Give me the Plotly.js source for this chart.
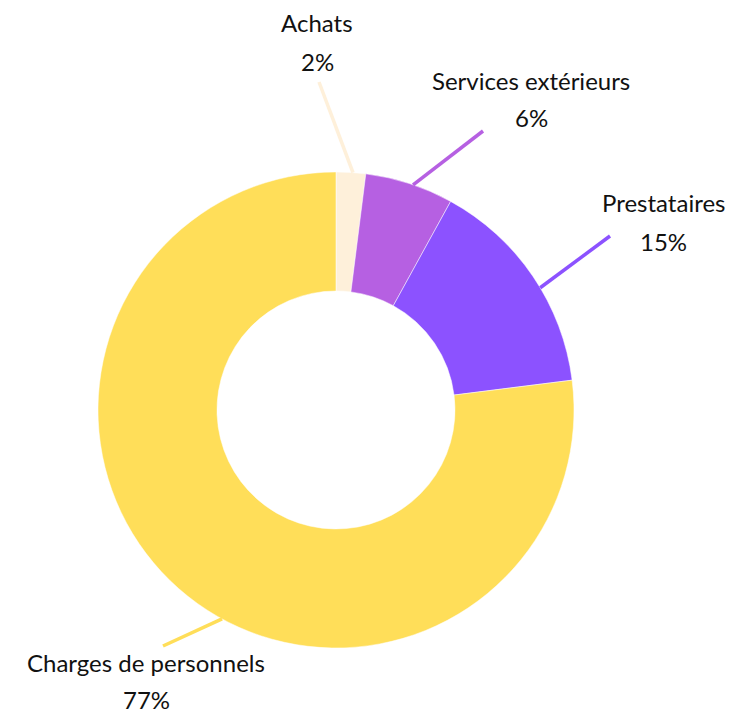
<!DOCTYPE html>
<html>
<head>
<meta charset="utf-8">
<script src="https://cdn.plot.ly/plotly-3.0.1.min.js"></script>
<style>html,body{margin:0;padding:0;background:#fff;}#chart{width:734px;height:713px;}</style>
</head>
<body>
<div id="chart"></div>
<script>
// ---- data ----
const categories = ["Achats", "Services extérieurs", "Prestataires", "Charges de personnels"];
const values = [2, 6, 15, 77];
const pctLabels = ["2%", "6%", "15%", "77%"];
const colors = ["#FEF0DA", "#B660E2", "#8C52FF", "#FFDE59"];

// ---- label placement (pixels) ----
const W = 734, H = 713;
const domX = [0.1335, 0.782], domY = [0.0912, 0.7588];
const cx = W * (domX[0] + domX[1]) / 2;
const cy = H * (1 - (domY[0] + domY[1]) / 2);
const R = Math.min(W * (domX[1] - domX[0]), H * (domY[1] - domY[0])) / 2;

const labelCfg = [
  {angleShift: 0.5, lineEnd: [319, 82], textX: 317, nameY: 23, pctY: 62},
  {angleShift: 0.9, lineEnd: [483, 131], textX: 531, nameY: 80, pctY: 118},
  {angleShift: 3.3, lineEnd: [610, 236], textX: 663, nameY: 202, pctY: 241},
  {angleShift: -12.8, lineEnd: [163, 646], textX: 146, nameY: 662, pctY: 699}
];

const total = values.reduce((a, b) => a + b, 0);
const px = x => x / W, py = y => 1 - y / H;
const shapes = [], annotations = [];
const font = {family: "Lato, 'Open Sans', sans-serif", size: 24, color: "#111111"};
let cum = 0;
values.forEach((v, i) => {
  const midDeg = 360 * (cum + v / 2) / total + labelCfg[i].angleShift;
  cum += v;
  const th = midDeg * Math.PI / 180;
  const sx = cx + R * Math.sin(th), sy = cy - R * Math.cos(th);
  const [ex, ey] = labelCfg[i].lineEnd;
  shapes.push({type: "line", xref: "paper", yref: "paper",
    x0: px(sx), y0: py(sy), x1: px(ex), y1: py(ey),
    line: {color: colors[i], width: 3.5}});
  annotations.push({xref: "paper", yref: "paper", x: px(labelCfg[i].textX), y: py(labelCfg[i].nameY),
    xanchor: "center", yanchor: "middle", text: categories[i], showarrow: false, font: font, borderpad: 0});
  annotations.push({xref: "paper", yref: "paper", x: px(labelCfg[i].textX), y: py(labelCfg[i].pctY),
    xanchor: "center", yanchor: "middle", text: pctLabels[i], showarrow: false, font: font, borderpad: 0});
});

const trace = {
  type: "pie",
  labels: categories,
  values: values,
  hole: 0.5,
  sort: false,
  direction: "clockwise",
  rotation: 0,
  textinfo: "none",
  marker: {colors: colors, line: {color: "#ffffff", width: 0.5}},
  domain: {x: domX, y: domY},
  showlegend: false
};

Plotly.newPlot("chart", [trace], {
  width: W, height: H,
  margin: {l: 0, r: 0, t: 0, b: 0},
  paper_bgcolor: "#ffffff",
  showlegend: false,
  shapes: shapes,
  annotations: annotations
}, {displayModeBar: false, staticPlot: true});
</script>
</body>
</html>
